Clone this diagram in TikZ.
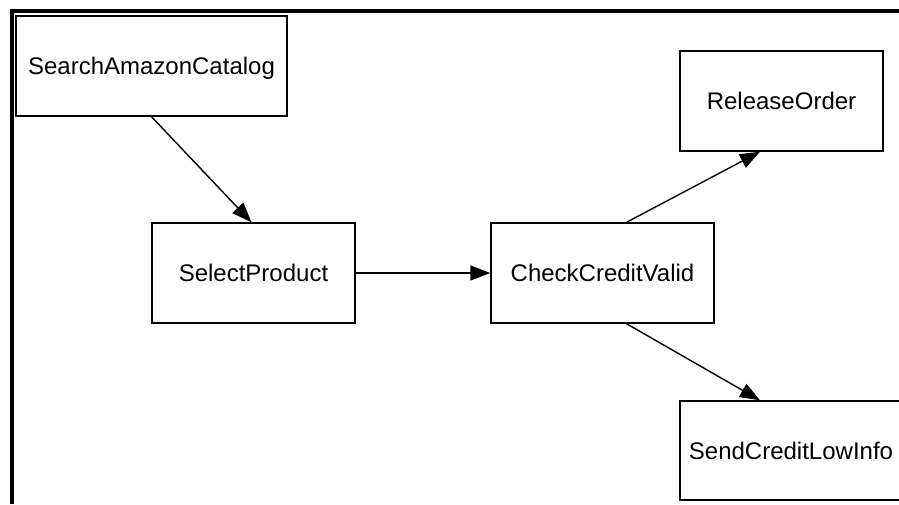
\documentclass[tikz,border=0pt]{standalone}
\usepackage{fontspec}
\setmainfont{Liberation Sans}
\usetikzlibrary{arrows.meta}
\begin{document}
\begin{tikzpicture}[x=1pt,y=-1pt,
  box/.style={draw,line width=1.4pt,rectangle,inner sep=0pt,
    minimum height=100pt,text height=17.5pt,text depth=0pt,
    font=\fontsize{24}{28}\selectfont},
  flow/.style={line width=1.4pt,-{Triangle[length=20pt,width=15pt]}}]
\useasboundingbox (0,0) rectangle (899,504);
\clip (0,0) rectangle (899,504);
\draw[line width=4pt,line join=miter] (11.5,504) -- (11.5,10.5) -- (899,10.5);
\node[box,minimum width=271pt] (search) at (151.5,66) {SearchAmazonCatalog};
\node[box,minimum width=203pt] (select) at (253.5,273) {SelectProduct};
\node[box,minimum width=223pt] (check) at (602.5,273) {CheckCreditValid};
\node[box,minimum width=203pt] (release) at (781.5,101) {ReleaseOrder};
\node[box,minimum width=240pt,minimum height=99pt] (send) at (800,450.5) {SendCreditLowInfo\hspace*{18pt}};
\draw[flow] (search.south) -- ([xshift=-2pt]select.north);
\draw[flow] (select.east) -- (check.west);
\draw[flow] ([xshift=24pt]check.north) -- ([xshift=-21.5pt]release.south);
\draw[flow] ([xshift=24pt]check.south) -- ([xshift=-40pt]send.north);
\end{tikzpicture}
\end{document}
